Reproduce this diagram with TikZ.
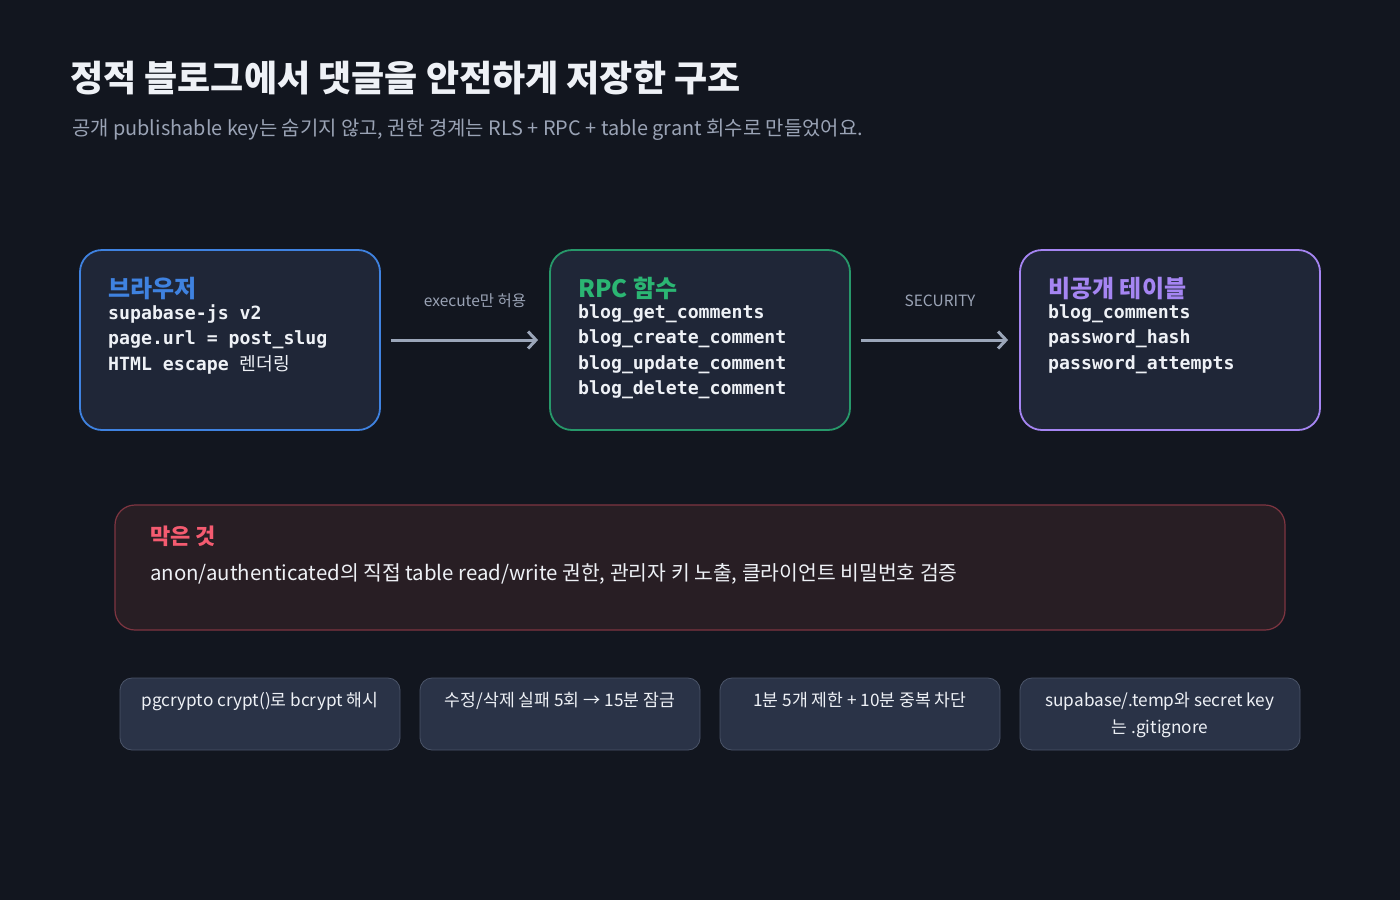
\documentclass[tikz,border=0pt]{standalone}
\usepackage{fontspec}
\setmainfont{Noto Sans CJK KR}
\setmonofont{DejaVu Sans Mono}
\usetikzlibrary{arrows.meta,positioning}
\definecolor{Bg}{HTML}{12161F}
\definecolor{Card}{HTML}{1F2637}
\definecolor{Ink}{HTML}{EEF1F6}
\definecolor{InkSoft}{HTML}{9AA3B5}
\definecolor{Browser}{HTML}{3F82E0}
\definecolor{Rpc}{HTML}{2BB673}
\definecolor{RpcLine}{HTML}{27986A}
\definecolor{Secret}{HTML}{A585F2}
\definecolor{Blocked}{HTML}{F45B70}
\definecolor{BlockedLine}{HTML}{7E3541}
\definecolor{BlockedFill}{HTML}{281E24}
\definecolor{Chip}{HTML}{2A3347}
\definecolor{ChipLine}{HTML}{4A5468}
\definecolor{Wire}{HTML}{9BA6B9}

\begin{document}
\begin{tikzpicture}[x=1pt,y=-1pt,panel/.style={rounded corners=22pt, line width=1.8pt, fill=Card, minimum width=300pt, minimum height=180pt, inner sep=0pt},head/.style={anchor=base west, inner sep=0pt, font=\fontsize{24}{28}\selectfont\bfseries},mono/.style={anchor=north west, inner sep=0pt, align=left, text=Ink, font=\fontsize{18.2}{25.5}\selectfont\ttfamily\bfseries},flow/.style={draw=Wire, line width=3pt, shorten <=10pt, shorten >=11pt, -{Straight Barb[length=8pt, width=17pt, line width=3pt]}},lbl/.style={font=\fontsize{15.5}{18}\selectfont, text=InkSoft, inner sep=0pt},chip/.style={rounded corners=12pt, draw=ChipLine, line width=0.8pt, fill=Chip, minimum width=280pt, minimum height=72pt, inner sep=0pt},chiptext/.style={anchor=base, inner sep=0pt, align=center, text=Ink, font=\fontsize{17.2}{27}\selectfont}]
\fill[Bg] (0,0) rectangle (1400,900);
\useasboundingbox (0,0) rectangle (1400,900);
\node[anchor=base west, inner sep=0pt, text=Ink, font=\fontsize{36}{42}\selectfont\bfseries] (title) at (70,91) {정적 블로그에서 댓글을 안전하게 저장한 구조};
\node[anchor=base west, inner sep=0pt, text=InkSoft, font=\fontsize{19.9}{24}\selectfont] (subtitle) at (72,135) {공개 publishable key는 숨기지 않고, 권한 경계는 RLS + RPC + table grant 회수로 만들었어요.};
% three stages
\node[panel, draw=Browser] (browser) at (230,340) {};
\node[panel, draw=RpcLine] (rpc) at (700,340) {};
\node[panel, draw=Secret] (secret) at (1170,340) {};
\node[head, text=Browser] (browserhead) at (108,297) {브라우저};
\node[mono] (browserbody) at (108,304) {supabase-js v2\\page.url = post\_slug\\HTML escape {\rmfamily\mdseries 렌더링}};
\node[head, text=Rpc] (rpchead) at (578,297) {RPC 함수};
\node[mono] (rpcbody) at (578,304) {blog\_get\_comments\\blog\_create\_comment\\blog\_update\_comment\\blog\_delete\_comment};
\node[head, text=Secret] (secrethead) at (1048,297) {비공개 테이블};
\node[mono] (secretbody) at (1048,304) {blog\_comments\\password\_hash\\password\_attempts};
\draw[flow] (browser) -- (rpc);
\draw[flow] (rpc) -- (secret);
\node[lbl] (execlbl) at (475,301) {execute만 허용};
\node[lbl] (seclbl) at (940,301) {SECURITY};
% what is blocked
\node[rounded corners=20pt, draw=BlockedLine, line width=1.2pt, fill=BlockedFill, minimum width=1170pt, minimum height=125pt, inner sep=0pt] (blocked) at (700,567.5) {};
\node[anchor=base west, inner sep=0pt, text=Blocked, font=\fontsize{22}{26}\selectfont\bfseries] (blockedhead) at (150,544) {막은 것};
\node[anchor=base west, inner sep=0pt, text=Ink, font=\fontsize{20.4}{24}\selectfont] (blockedbody) at (150,580) {anon/authenticated의 직접 table read/write 권한, 관리자 키 노출, 클라이언트 비밀번호 검증};
% details
\node[chip] (hash) at (260,714) {};
\node[chip] (lock) at (560,714) {};
\node[chip] (rate) at (860,714) {};
\node[chip] (ignore) at (1160,714) {};
\node[chiptext] (hashtext) at (260,706) {pgcrypto crypt()로 bcrypt 해시};
\node[chiptext] (locktext) at (560,706) {수정/삭제 실패 5회 → 15분 잠금};
\node[chiptext] (ratetext) at (860,706) {1분 5개 제한 + 10분 중복 차단};
\node[chiptext] (ignoretext) at (1160,733) {supabase/.temp와 secret key\\는 .gitignore};
\end{tikzpicture}
\end{document}
